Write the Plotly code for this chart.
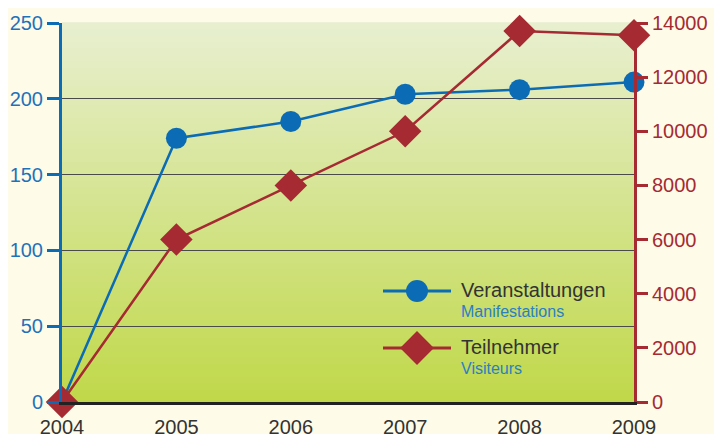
import plotly.graph_objects as go

years = [2004, 2005, 2006, 2007, 2008, 2009]
veranstaltungen = [0, 174, 185, 203, 206, 211]
teilnehmer = [0, 6000, 8000, 10000, 13700, 13550]

left_ticks = [0, 50, 100, 150, 200, 250]
right_ticks = [0, 2000, 4000, 6000, 8000, 10000, 12000, 14000]
right_labels = [str(v) for v in right_ticks]

blue = "#0b6cb5"
red = "#a52a32"
light_blue = "#2a80c4"
bg = "#fefce9"

# plot area in screen pixels (page body adds an 8px offset)
px0, px1, py0, py1 = 62, 634, 23, 402

fig = go.Figure()

fig.add_trace(go.Scatter(
    x=years, y=veranstaltungen, mode="lines+markers",
    line=dict(color=blue, width=2.5),
    marker=dict(symbol="circle", size=21, color=blue),
    cliponaxis=False, showlegend=False,
))
fig.add_trace(go.Scatter(
    x=years, y=teilnehmer, mode="lines+markers", yaxis="y2",
    line=dict(color=red, width=2.5),
    marker=dict(symbol="diamond", size=25, color=red),
    cliponaxis=False, showlegend=False,
))

# gradient background of the plot area, light on top, yellow-green at the bottom
n = 60
top = (231, 239, 207)
bot = (192, 216, 74)
for i in range(n):
    t = i / (n - 1)
    c = tuple(round(bot[k] + (top[k] - bot[k]) * t) for k in range(3))
    fig.add_shape(type="rect", xref="x domain", yref="y domain",
                  x0=0, x1=1, y0=i / n, y1=(i + 1) / n + 0.002,
                  fillcolor="rgb(%d,%d,%d)" % c, line_width=0, layer="below")

# hand-made legend, drawn in pixel coordinates on a hidden overlay axis
legend_items = [
    ("Veranstaltungen", "Manifestations", "circle", blue, 22, 291),
    ("Teilnehmer", "Visiteurs", "diamond", red, 26, 348),
]
for title, sub, sym, col, msize, ly in legend_items:
    fig.add_trace(go.Scatter(
        x=[383, 451], y=[ly, ly], mode="lines", xaxis="x3", yaxis="y3",
        line=dict(color=col, width=3), showlegend=False, hoverinfo="skip"))
    fig.add_trace(go.Scatter(
        x=[417], y=[ly], mode="markers", xaxis="x3", yaxis="y3",
        marker=dict(symbol=sym, size=msize, color=col), showlegend=False,
        hoverinfo="skip"))
    fig.add_annotation(x=459, y=ly - 1, xref="x3", yref="y3", text=title,
                       showarrow=False, xanchor="left", yanchor="middle",
                       font=dict(size=20, color="#333333"))
    fig.add_annotation(x=459, y=ly + 20, xref="x3", yref="y3", text=sub,
                       showarrow=False, xanchor="left", yanchor="middle",
                       font=dict(size=16, color=light_blue))

fig.update_layout(
    width=722, height=434,
    margin=dict(l=px0 - 8, r=722 + 8 - px1, t=py0 - 8, b=434 + 8 - py1),
    paper_bgcolor=bg, plot_bgcolor="rgba(0,0,0,0)",
    font=dict(family="Liberation Sans, Arial, sans-serif", size=20, color="#333333"),
    showlegend=False,
    xaxis=dict(range=[2004, 2009], tickvals=years, showgrid=False,
               showline=True, linecolor="#222222", linewidth=3,
               ticks="outside", ticklen=5, tickcolor="rgba(0,0,0,0)",
               tickfont=dict(color="#333333", size=20), zeroline=False,
               automargin=False),
    yaxis=dict(range=[0, 250], tickvals=left_ticks, showgrid=True,
               gridcolor="#4a4a4a", gridwidth=1, showline=True, linecolor=blue,
               linewidth=3, ticks="outside", tickcolor=blue, tickwidth=3, ticklen=12,
               tickfont=dict(color="#1f72ba", size=20), zeroline=False,
               automargin=False),
    yaxis2=dict(range=[0, 14000], tickvals=right_ticks, ticktext=right_labels,
                overlaying="y", side="right",
                showgrid=False, showline=True, linecolor=red, linewidth=3,
                ticks="outside", tickcolor=red, tickwidth=3, ticklen=11,
                tickfont=dict(color=red, size=20), zeroline=False,
                automargin=False),
    xaxis3=dict(domain=[0, 1], range=[px0, px1], visible=False, fixedrange=True,
                anchor="y3", overlaying="x"),
    yaxis3=dict(domain=[0, 1], range=[py1, py0], visible=False, fixedrange=True,
                anchor="x3", overlaying="y"),
)

fig.write_html("out.html")
